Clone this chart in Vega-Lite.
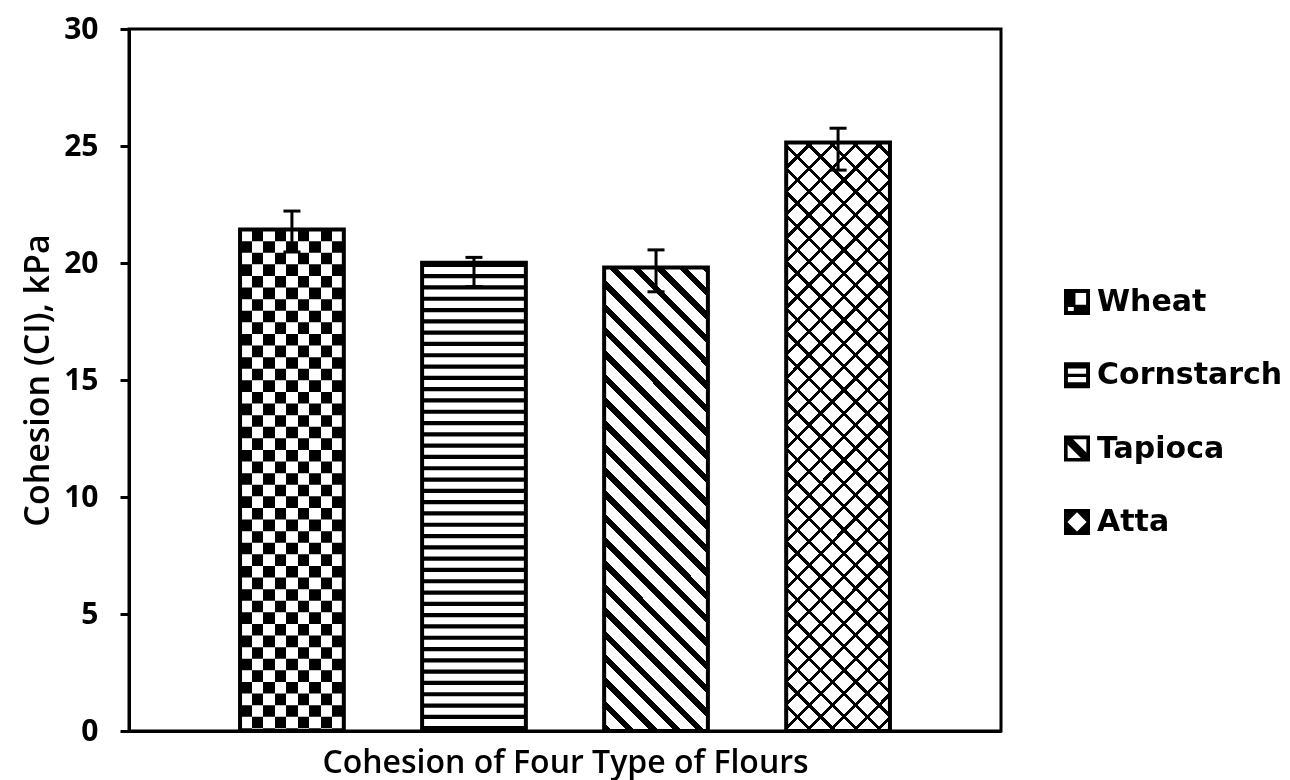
{
  "$schema": "https://vega.github.io/schema/vega-lite/v6.json",
  "width": 872,
  "height": 702,
  "autosize": {"type": "none"},
  "padding": {"left": 129, "top": 29, "right": 289, "bottom": 49},
  "background": "white",
  "config": {
    "view": {"stroke": "black", "strokeWidth": 3},
    "axis": {"domainColor": "black", "domainWidth": 3, "tickColor": "black", "tickWidth": 3, "labelColor": "black", "titleColor": "black", "grid": false, "labelFont": "Open Sans", "titleFont": "Open Sans"},
    "axisY": {"tickSize": 9, "tickCount": 6, "labelFontSize": 30, "labelFontWeight": "bold", "labelPadding": 22, "labelFlush": false, "labelOverlap": false, "titleFontSize": 34, "titleFontWeight": 600, "titlePadding": 8},
    "axisX": {"labels": false, "ticks": false, "titleFontSize": 32, "titleFontWeight": 600, "titlePadding": 16}
  },
  "data": {
    "values": [
      {"flour": "Wheat", "cohesion": 21.43, "lo": 20.47, "hi": 22.22},
      {"flour": "Cornstarch", "cohesion": 20.01, "lo": 18.99, "hi": 20.24},
      {"flour": "Tapioca", "cohesion": 19.81, "lo": 18.77, "hi": 20.56},
      {"flour": "Atta", "cohesion": 25.15, "lo": 23.97, "hi": 25.76}
    ]
  },
  "encoding": {
    "x": {
      "field": "flour",
      "type": "nominal",
      "scale": {"domain": ["Wheat", "Cornstarch", "Tapioca", "Atta"], "paddingInner": 0.43, "paddingOuter": 0.61},
      "title": "Cohesion of Four Type of Flours"
    }
  },
  "layer": [
    {
      "transform": [{"filter": "datum.flour === 'Wheat'"}],
      "mark": {
        "type": "bar",
        "fill": {
          "gradient": "linear", "x1": 0, "y1": 0, "x2": 1, "y2": 0,
          "stops": [
            {"offset": 0, "color": "#000"}, {"offset": 0.1111, "color": "#000"}, {"offset": 0.1111, "color": "#fff"}, {"offset": 0.2222, "color": "#fff"},
            {"offset": 0.2222, "color": "#000"}, {"offset": 0.3333, "color": "#000"}, {"offset": 0.3333, "color": "#fff"}, {"offset": 0.4444, "color": "#fff"},
            {"offset": 0.4444, "color": "#000"}, {"offset": 0.5556, "color": "#000"}, {"offset": 0.5556, "color": "#fff"}, {"offset": 0.6667, "color": "#fff"},
            {"offset": 0.6667, "color": "#000"}, {"offset": 0.7778, "color": "#000"}, {"offset": 0.7778, "color": "#fff"}, {"offset": 0.8889, "color": "#fff"},
            {"offset": 0.8889, "color": "#000"}, {"offset": 1, "color": "#000"}
          ]
        }
      },
      "encoding": {"y": {"field": "cohesion", "type": "quantitative", "title": "Cohesion (CI), kPa", "scale": {"domain": [0, 30], "nice": false}}}
    },
    {
      "transform": [{"filter": "datum.flour === 'Wheat'"}],
      "mark": {"type": "rule", "stroke": "#fff", "strokeWidth": 103.77, "strokeDash": [11.6, 11.6], "strokeCap": "butt", "blend": "difference"},
      "encoding": {"y": {"field": "cohesion", "type": "quantitative", "title": "Cohesion (CI), kPa"}, "y2": {"datum": 0}}
    },
    {
      "transform": [{"filter": "datum.flour === 'Cornstarch'"}],
      "mark": {"type": "bar", "fill": "#fff"},
      "encoding": {"y": {"field": "cohesion", "type": "quantitative", "title": "Cohesion (CI), kPa"}}
    },
    {
      "transform": [{"filter": "datum.flour === 'Cornstarch'"}],
      "mark": {"type": "rule", "stroke": "#000", "strokeWidth": 103.77, "strokeDash": [4.2, 7.1], "strokeCap": "butt"},
      "encoding": {"y": {"field": "cohesion", "type": "quantitative", "title": "Cohesion (CI), kPa"}, "y2": {"datum": 0}}
    },
    {
      "transform": [{"filter": "datum.flour === 'Tapioca'"}],
      "mark": {
        "type": "bar",
        "fill": {
          "gradient": "linear", "x1": 0, "y1": 1, "x2": 0.26862, "y2": -0.19896,
          "stops": [
            {"offset": 0, "color": "#000"}, {"offset": 0.0145, "color": "#000"}, {"offset": 0.0145, "color": "#fff"}, {"offset": 0.04, "color": "#fff"},
            {"offset": 0.04, "color": "#000"}, {"offset": 0.0545, "color": "#000"}, {"offset": 0.0545, "color": "#fff"}, {"offset": 0.08, "color": "#fff"},
            {"offset": 0.08, "color": "#000"}, {"offset": 0.0945, "color": "#000"}, {"offset": 0.0945, "color": "#fff"}, {"offset": 0.12, "color": "#fff"},
            {"offset": 0.12, "color": "#000"}, {"offset": 0.1345, "color": "#000"}, {"offset": 0.1345, "color": "#fff"}, {"offset": 0.16, "color": "#fff"},
            {"offset": 0.16, "color": "#000"}, {"offset": 0.1745, "color": "#000"}, {"offset": 0.1745, "color": "#fff"}, {"offset": 0.2, "color": "#fff"},
            {"offset": 0.2, "color": "#000"}, {"offset": 0.2145, "color": "#000"}, {"offset": 0.2145, "color": "#fff"}, {"offset": 0.24, "color": "#fff"},
            {"offset": 0.24, "color": "#000"}, {"offset": 0.2545, "color": "#000"}, {"offset": 0.2545, "color": "#fff"}, {"offset": 0.28, "color": "#fff"},
            {"offset": 0.28, "color": "#000"}, {"offset": 0.2945, "color": "#000"}, {"offset": 0.2945, "color": "#fff"}, {"offset": 0.32, "color": "#fff"},
            {"offset": 0.32, "color": "#000"}, {"offset": 0.3345, "color": "#000"}, {"offset": 0.3345, "color": "#fff"}, {"offset": 0.36, "color": "#fff"},
            {"offset": 0.36, "color": "#000"}, {"offset": 0.3745, "color": "#000"}, {"offset": 0.3745, "color": "#fff"}, {"offset": 0.4, "color": "#fff"},
            {"offset": 0.4, "color": "#000"}, {"offset": 0.4145, "color": "#000"}, {"offset": 0.4145, "color": "#fff"}, {"offset": 0.44, "color": "#fff"},
            {"offset": 0.44, "color": "#000"}, {"offset": 0.4545, "color": "#000"}, {"offset": 0.4545, "color": "#fff"}, {"offset": 0.48, "color": "#fff"},
            {"offset": 0.48, "color": "#000"}, {"offset": 0.4945, "color": "#000"}, {"offset": 0.4945, "color": "#fff"}, {"offset": 0.52, "color": "#fff"},
            {"offset": 0.52, "color": "#000"}, {"offset": 0.5345, "color": "#000"}, {"offset": 0.5345, "color": "#fff"}, {"offset": 0.56, "color": "#fff"},
            {"offset": 0.56, "color": "#000"}, {"offset": 0.5745, "color": "#000"}, {"offset": 0.5745, "color": "#fff"}, {"offset": 0.6, "color": "#fff"},
            {"offset": 0.6, "color": "#000"}, {"offset": 0.6145, "color": "#000"}, {"offset": 0.6145, "color": "#fff"}, {"offset": 0.64, "color": "#fff"},
            {"offset": 0.64, "color": "#000"}, {"offset": 0.6545, "color": "#000"}, {"offset": 0.6545, "color": "#fff"}, {"offset": 0.68, "color": "#fff"},
            {"offset": 0.68, "color": "#000"}, {"offset": 0.6945, "color": "#000"}, {"offset": 0.6945, "color": "#fff"}, {"offset": 0.72, "color": "#fff"},
            {"offset": 0.72, "color": "#000"}, {"offset": 0.7345, "color": "#000"}, {"offset": 0.7345, "color": "#fff"}, {"offset": 0.76, "color": "#fff"},
            {"offset": 0.76, "color": "#000"}, {"offset": 0.7745, "color": "#000"}, {"offset": 0.7745, "color": "#fff"}, {"offset": 0.8, "color": "#fff"},
            {"offset": 0.8, "color": "#000"}, {"offset": 0.8145, "color": "#000"}, {"offset": 0.8145, "color": "#fff"}, {"offset": 0.84, "color": "#fff"},
            {"offset": 0.84, "color": "#000"}, {"offset": 0.8545, "color": "#000"}, {"offset": 0.8545, "color": "#fff"}, {"offset": 0.88, "color": "#fff"},
            {"offset": 0.88, "color": "#000"}, {"offset": 0.8945, "color": "#000"}, {"offset": 0.8945, "color": "#fff"}, {"offset": 0.92, "color": "#fff"},
            {"offset": 0.92, "color": "#000"}, {"offset": 0.9345, "color": "#000"}, {"offset": 0.9345, "color": "#fff"}, {"offset": 0.96, "color": "#fff"},
            {"offset": 0.96, "color": "#000"}, {"offset": 0.9745, "color": "#000"}, {"offset": 0.9745, "color": "#fff"}, {"offset": 1, "color": "#fff"}
          ]
        }
      },
      "encoding": {"y": {"field": "cohesion", "type": "quantitative", "title": "Cohesion (CI), kPa"}}
    },
    {
      "transform": [{"filter": "datum.flour === 'Atta'"}],
      "mark": {
        "type": "bar",
        "fill": {
          "gradient": "linear", "x1": 0, "y1": 1, "x2": 0.20348, "y2": -0.15364,
          "stops": [
            {"offset": 0, "color": "#000"}, {"offset": 0.006, "color": "#000"}, {"offset": 0.006, "color": "#fff"}, {"offset": 0.0333, "color": "#fff"},
            {"offset": 0.0333, "color": "#000"}, {"offset": 0.0393, "color": "#000"}, {"offset": 0.0393, "color": "#fff"}, {"offset": 0.0667, "color": "#fff"},
            {"offset": 0.0667, "color": "#000"}, {"offset": 0.0727, "color": "#000"}, {"offset": 0.0727, "color": "#fff"}, {"offset": 0.1, "color": "#fff"},
            {"offset": 0.1, "color": "#000"}, {"offset": 0.106, "color": "#000"}, {"offset": 0.106, "color": "#fff"}, {"offset": 0.1333, "color": "#fff"},
            {"offset": 0.1333, "color": "#000"}, {"offset": 0.1393, "color": "#000"}, {"offset": 0.1393, "color": "#fff"}, {"offset": 0.1667, "color": "#fff"},
            {"offset": 0.1667, "color": "#000"}, {"offset": 0.1727, "color": "#000"}, {"offset": 0.1727, "color": "#fff"}, {"offset": 0.2, "color": "#fff"},
            {"offset": 0.2, "color": "#000"}, {"offset": 0.206, "color": "#000"}, {"offset": 0.206, "color": "#fff"}, {"offset": 0.2333, "color": "#fff"},
            {"offset": 0.2333, "color": "#000"}, {"offset": 0.2393, "color": "#000"}, {"offset": 0.2393, "color": "#fff"}, {"offset": 0.2667, "color": "#fff"},
            {"offset": 0.2667, "color": "#000"}, {"offset": 0.2727, "color": "#000"}, {"offset": 0.2727, "color": "#fff"}, {"offset": 0.3, "color": "#fff"},
            {"offset": 0.3, "color": "#000"}, {"offset": 0.306, "color": "#000"}, {"offset": 0.306, "color": "#fff"}, {"offset": 0.3333, "color": "#fff"},
            {"offset": 0.3333, "color": "#000"}, {"offset": 0.3393, "color": "#000"}, {"offset": 0.3393, "color": "#fff"}, {"offset": 0.3667, "color": "#fff"},
            {"offset": 0.3667, "color": "#000"}, {"offset": 0.3727, "color": "#000"}, {"offset": 0.3727, "color": "#fff"}, {"offset": 0.4, "color": "#fff"},
            {"offset": 0.4, "color": "#000"}, {"offset": 0.406, "color": "#000"}, {"offset": 0.406, "color": "#fff"}, {"offset": 0.4333, "color": "#fff"},
            {"offset": 0.4333, "color": "#000"}, {"offset": 0.4393, "color": "#000"}, {"offset": 0.4393, "color": "#fff"}, {"offset": 0.4667, "color": "#fff"},
            {"offset": 0.4667, "color": "#000"}, {"offset": 0.4727, "color": "#000"}, {"offset": 0.4727, "color": "#fff"}, {"offset": 0.5, "color": "#fff"},
            {"offset": 0.5, "color": "#000"}, {"offset": 0.506, "color": "#000"}, {"offset": 0.506, "color": "#fff"}, {"offset": 0.5333, "color": "#fff"},
            {"offset": 0.5333, "color": "#000"}, {"offset": 0.5393, "color": "#000"}, {"offset": 0.5393, "color": "#fff"}, {"offset": 0.5667, "color": "#fff"},
            {"offset": 0.5667, "color": "#000"}, {"offset": 0.5727, "color": "#000"}, {"offset": 0.5727, "color": "#fff"}, {"offset": 0.6, "color": "#fff"},
            {"offset": 0.6, "color": "#000"}, {"offset": 0.606, "color": "#000"}, {"offset": 0.606, "color": "#fff"}, {"offset": 0.6333, "color": "#fff"},
            {"offset": 0.6333, "color": "#000"}, {"offset": 0.6393, "color": "#000"}, {"offset": 0.6393, "color": "#fff"}, {"offset": 0.6667, "color": "#fff"},
            {"offset": 0.6667, "color": "#000"}, {"offset": 0.6727, "color": "#000"}, {"offset": 0.6727, "color": "#fff"}, {"offset": 0.7, "color": "#fff"},
            {"offset": 0.7, "color": "#000"}, {"offset": 0.706, "color": "#000"}, {"offset": 0.706, "color": "#fff"}, {"offset": 0.7333, "color": "#fff"},
            {"offset": 0.7333, "color": "#000"}, {"offset": 0.7393, "color": "#000"}, {"offset": 0.7393, "color": "#fff"}, {"offset": 0.7667, "color": "#fff"},
            {"offset": 0.7667, "color": "#000"}, {"offset": 0.7727, "color": "#000"}, {"offset": 0.7727, "color": "#fff"}, {"offset": 0.8, "color": "#fff"},
            {"offset": 0.8, "color": "#000"}, {"offset": 0.806, "color": "#000"}, {"offset": 0.806, "color": "#fff"}, {"offset": 0.8333, "color": "#fff"},
            {"offset": 0.8333, "color": "#000"}, {"offset": 0.8393, "color": "#000"}, {"offset": 0.8393, "color": "#fff"}, {"offset": 0.8667, "color": "#fff"},
            {"offset": 0.8667, "color": "#000"}, {"offset": 0.8727, "color": "#000"}, {"offset": 0.8727, "color": "#fff"}, {"offset": 0.9, "color": "#fff"},
            {"offset": 0.9, "color": "#000"}, {"offset": 0.906, "color": "#000"}, {"offset": 0.906, "color": "#fff"}, {"offset": 0.9333, "color": "#fff"},
            {"offset": 0.9333, "color": "#000"}, {"offset": 0.9393, "color": "#000"}, {"offset": 0.9393, "color": "#fff"}, {"offset": 0.9667, "color": "#fff"},
            {"offset": 0.9667, "color": "#000"}, {"offset": 0.9727, "color": "#000"}, {"offset": 0.9727, "color": "#fff"}, {"offset": 1, "color": "#fff"}
          ]
        }
      },
      "encoding": {"y": {"field": "cohesion", "type": "quantitative", "title": "Cohesion (CI), kPa"}}
    },
    {
      "transform": [{"filter": "datum.flour === 'Atta'"}],
      "mark": {
        "type": "bar",
        "blend": "multiply",
        "fill": {
          "gradient": "linear", "x1": 0, "y1": 0, "x2": 0.20348, "y2": 1.15364,
          "stops": [
            {"offset": 0, "color": "#000"}, {"offset": 0.006, "color": "#000"}, {"offset": 0.006, "color": "#fff"}, {"offset": 0.0333, "color": "#fff"},
            {"offset": 0.0333, "color": "#000"}, {"offset": 0.0393, "color": "#000"}, {"offset": 0.0393, "color": "#fff"}, {"offset": 0.0667, "color": "#fff"},
            {"offset": 0.0667, "color": "#000"}, {"offset": 0.0727, "color": "#000"}, {"offset": 0.0727, "color": "#fff"}, {"offset": 0.1, "color": "#fff"},
            {"offset": 0.1, "color": "#000"}, {"offset": 0.106, "color": "#000"}, {"offset": 0.106, "color": "#fff"}, {"offset": 0.1333, "color": "#fff"},
            {"offset": 0.1333, "color": "#000"}, {"offset": 0.1393, "color": "#000"}, {"offset": 0.1393, "color": "#fff"}, {"offset": 0.1667, "color": "#fff"},
            {"offset": 0.1667, "color": "#000"}, {"offset": 0.1727, "color": "#000"}, {"offset": 0.1727, "color": "#fff"}, {"offset": 0.2, "color": "#fff"},
            {"offset": 0.2, "color": "#000"}, {"offset": 0.206, "color": "#000"}, {"offset": 0.206, "color": "#fff"}, {"offset": 0.2333, "color": "#fff"},
            {"offset": 0.2333, "color": "#000"}, {"offset": 0.2393, "color": "#000"}, {"offset": 0.2393, "color": "#fff"}, {"offset": 0.2667, "color": "#fff"},
            {"offset": 0.2667, "color": "#000"}, {"offset": 0.2727, "color": "#000"}, {"offset": 0.2727, "color": "#fff"}, {"offset": 0.3, "color": "#fff"},
            {"offset": 0.3, "color": "#000"}, {"offset": 0.306, "color": "#000"}, {"offset": 0.306, "color": "#fff"}, {"offset": 0.3333, "color": "#fff"},
            {"offset": 0.3333, "color": "#000"}, {"offset": 0.3393, "color": "#000"}, {"offset": 0.3393, "color": "#fff"}, {"offset": 0.3667, "color": "#fff"},
            {"offset": 0.3667, "color": "#000"}, {"offset": 0.3727, "color": "#000"}, {"offset": 0.3727, "color": "#fff"}, {"offset": 0.4, "color": "#fff"},
            {"offset": 0.4, "color": "#000"}, {"offset": 0.406, "color": "#000"}, {"offset": 0.406, "color": "#fff"}, {"offset": 0.4333, "color": "#fff"},
            {"offset": 0.4333, "color": "#000"}, {"offset": 0.4393, "color": "#000"}, {"offset": 0.4393, "color": "#fff"}, {"offset": 0.4667, "color": "#fff"},
            {"offset": 0.4667, "color": "#000"}, {"offset": 0.4727, "color": "#000"}, {"offset": 0.4727, "color": "#fff"}, {"offset": 0.5, "color": "#fff"},
            {"offset": 0.5, "color": "#000"}, {"offset": 0.506, "color": "#000"}, {"offset": 0.506, "color": "#fff"}, {"offset": 0.5333, "color": "#fff"},
            {"offset": 0.5333, "color": "#000"}, {"offset": 0.5393, "color": "#000"}, {"offset": 0.5393, "color": "#fff"}, {"offset": 0.5667, "color": "#fff"},
            {"offset": 0.5667, "color": "#000"}, {"offset": 0.5727, "color": "#000"}, {"offset": 0.5727, "color": "#fff"}, {"offset": 0.6, "color": "#fff"},
            {"offset": 0.6, "color": "#000"}, {"offset": 0.606, "color": "#000"}, {"offset": 0.606, "color": "#fff"}, {"offset": 0.6333, "color": "#fff"},
            {"offset": 0.6333, "color": "#000"}, {"offset": 0.6393, "color": "#000"}, {"offset": 0.6393, "color": "#fff"}, {"offset": 0.6667, "color": "#fff"},
            {"offset": 0.6667, "color": "#000"}, {"offset": 0.6727, "color": "#000"}, {"offset": 0.6727, "color": "#fff"}, {"offset": 0.7, "color": "#fff"},
            {"offset": 0.7, "color": "#000"}, {"offset": 0.706, "color": "#000"}, {"offset": 0.706, "color": "#fff"}, {"offset": 0.7333, "color": "#fff"},
            {"offset": 0.7333, "color": "#000"}, {"offset": 0.7393, "color": "#000"}, {"offset": 0.7393, "color": "#fff"}, {"offset": 0.7667, "color": "#fff"},
            {"offset": 0.7667, "color": "#000"}, {"offset": 0.7727, "color": "#000"}, {"offset": 0.7727, "color": "#fff"}, {"offset": 0.8, "color": "#fff"},
            {"offset": 0.8, "color": "#000"}, {"offset": 0.806, "color": "#000"}, {"offset": 0.806, "color": "#fff"}, {"offset": 0.8333, "color": "#fff"},
            {"offset": 0.8333, "color": "#000"}, {"offset": 0.8393, "color": "#000"}, {"offset": 0.8393, "color": "#fff"}, {"offset": 0.8667, "color": "#fff"},
            {"offset": 0.8667, "color": "#000"}, {"offset": 0.8727, "color": "#000"}, {"offset": 0.8727, "color": "#fff"}, {"offset": 0.9, "color": "#fff"},
            {"offset": 0.9, "color": "#000"}, {"offset": 0.906, "color": "#000"}, {"offset": 0.906, "color": "#fff"}, {"offset": 0.9333, "color": "#fff"},
            {"offset": 0.9333, "color": "#000"}, {"offset": 0.9393, "color": "#000"}, {"offset": 0.9393, "color": "#fff"}, {"offset": 0.9667, "color": "#fff"},
            {"offset": 0.9667, "color": "#000"}, {"offset": 0.9727, "color": "#000"}, {"offset": 0.9727, "color": "#fff"}, {"offset": 1, "color": "#fff"}
          ]
        }
      },
      "encoding": {"y": {"field": "cohesion", "type": "quantitative", "title": "Cohesion (CI), kPa"}}
    },
    {
      "mark": {"type": "bar", "fill": "transparent", "stroke": "#000", "strokeWidth": 4},
      "encoding": {"y": {"field": "cohesion", "type": "quantitative", "title": "Cohesion (CI), kPa"}}
    },
    {
      "mark": {"type": "point", "filled": true, "color": "#000", "opacity": 0, "size": 1},
      "encoding": {
        "y": {"field": "cohesion", "type": "quantitative", "title": "Cohesion (CI), kPa"},
        "shape": {
          "field": "flour",
          "type": "nominal",
          "scale": {
            "domain": ["Wheat", "Cornstarch", "Tapioca", "Atta"],
            "range": [
              "M-1,-1H1V1H-1Z M-0.12,-0.7V0.22H0.7V-0.7Z M-0.7,0.38V0.7H-0.25V0.38Z",
              "M-1,-1H1V1H-1Z M-0.7,-0.52V-0.12H0.7V-0.52Z M-0.7,0.14V0.54H0.7V0.14Z",
              "M-1,-1H1V1H-1Z M-0.3,-0.72L0.72,0.3L0.72,-0.72Z M-0.72,-0.3L-0.72,0.72L0.3,0.72Z",
              "M-1,-1H1V1H-1Z M0,-0.74L-0.74,0L0,0.74L0.74,0Z"
            ]
          },
          "legend": {
            "title": null,
            "orient": "none",
            "legendX": 933,
            "legendY": 258,
            "padding": 0,
            "symbolSize": 676,
            "symbolOpacity": 1,
            "symbolFillColor": "#000",
            "symbolStrokeWidth": 0,
            "labelFont": "DejaVu Sans",
            "labelFontSize": 30,
            "labelFontWeight": "bold",
            "labelColor": "#000",
            "labelOffset": 5,
            "labelLimit": 400,
            "rowPadding": 43.3
          }
        }
      }
    },
    {
      "mark": {"type": "rule", "stroke": "#000", "strokeWidth": 3},
      "encoding": {
        "y": {"field": "lo", "type": "quantitative", "title": "Cohesion (CI), kPa"},
        "y2": {"field": "hi"}
      }
    },
    {
      "mark": {"type": "tick", "color": "#000", "size": 17, "thickness": 3, "opacity": 1},
      "encoding": {"y": {"field": "hi", "type": "quantitative", "title": "Cohesion (CI), kPa"}}
    },
    {
      "mark": {"type": "tick", "color": "#000", "size": 17, "thickness": 3, "opacity": 1},
      "encoding": {"y": {"field": "lo", "type": "quantitative", "title": "Cohesion (CI), kPa"}}
    }
  ]
}
